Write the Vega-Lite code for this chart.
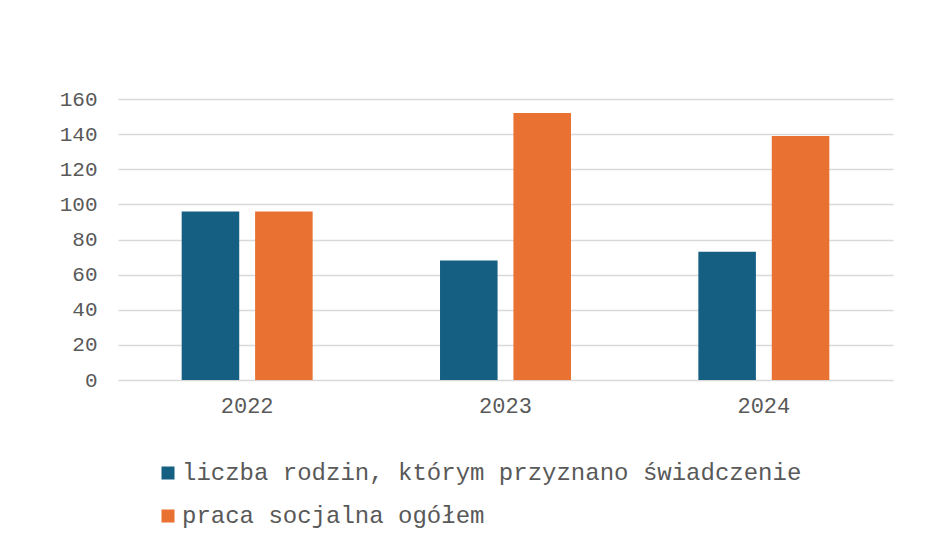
{
  "$schema": "https://vega.github.io/schema/vega-lite/v6.json",
  "width": 775,
  "height": 281,
  "autosize": {"type": "none"},
  "padding": {"left": 118, "top": 99, "right": 37, "bottom": 163},
  "background": "#ffffff",
  "data": {
    "values": [
      {"rok": "2022", "seria": "liczba rodzin, którym przyznano świadczenie", "wartosc": 96},
      {"rok": "2022", "seria": "praca socjalna ogółem", "wartosc": 96},
      {"rok": "2023", "seria": "liczba rodzin, którym przyznano świadczenie", "wartosc": 68},
      {"rok": "2023", "seria": "praca socjalna ogółem", "wartosc": 152},
      {"rok": "2024", "seria": "liczba rodzin, którym przyznano świadczenie", "wartosc": 73},
      {"rok": "2024", "seria": "praca socjalna ogółem", "wartosc": 139}
    ]
  },
  "mark": {"type": "bar"},
  "encoding": {
    "x": {
      "field": "rok",
      "type": "nominal",
      "scale": {"paddingInner": 0.493, "paddingOuter": 0.2465},
      "axis": {
        "title": null,
        "labelAngle": 0,
        "domain": false,
        "ticks": false,
        "labelFontSize": 22,
        "labelPadding": 15
      }
    },
    "xOffset": {
      "field": "seria",
      "type": "nominal",
      "sort": ["liczba rodzin, którym przyznano świadczenie", "praca socjalna ogółem"],
      "scale": {"paddingInner": 0.216, "paddingOuter": 0}
    },
    "y": {
      "field": "wartosc",
      "type": "quantitative",
      "scale": {"domain": [0, 160], "nice": false},
      "axis": {
        "title": null,
        "values": [0, 20, 40, 60, 80, 100, 120, 140, 160],
        "grid": true,
        "domain": false,
        "ticks": false,
        "labelFontSize": 21,
        "labelPadding": 21
      }
    },
    "color": {
      "field": "seria",
      "type": "nominal",
      "scale": {
        "domain": ["liczba rodzin, którym przyznano świadczenie", "praca socjalna ogółem"],
        "range": ["#156082", "#E97132"]
      },
      "legend": {
        "title": null,
        "orient": "none",
        "legendX": 38,
        "legendY": 362,
        "direction": "vertical",
        "symbolType": "square",
        "symbolSize": 169,
        "symbolStrokeWidth": 0,
        "symbolOpacity": 1,
        "labelFontSize": 24,
        "labelOffset": 2,
        "rowPadding": 19,
        "labelLimit": 800
      }
    }
  },
  "config": {
    "font": "Liberation Mono",
    "view": {"stroke": null},
    "axis": {
      "labelFont": "Liberation Mono",
      "labelColor": "#595959",
      "gridColor": "#d9d9d9",
      "gridWidth": 1.5
    },
    "legend": {
      "labelFont": "Liberation Mono",
      "labelColor": "#595959"
    }
  }
}
